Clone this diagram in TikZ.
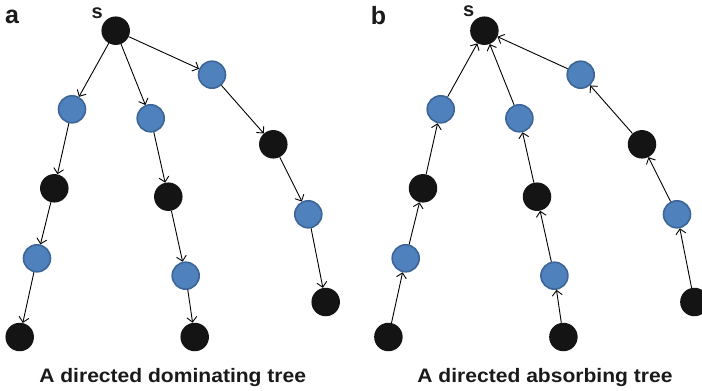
\documentclass[tikz,border=0pt]{standalone}
\usepackage{fontspec}
\setmainfont{Liberation Sans}
\newfontfamily\capfont[FakeStretch=1.08]{Liberation Sans}
\usetikzlibrary{arrows.meta}
\definecolor{nodeblue}{HTML}{4F81BD}
\definecolor{nodeblueedge}{HTML}{3C6598}
\definecolor{nodeblack}{HTML}{141414}
\definecolor{inkgray}{HTML}{1A1A1A}
\begin{document}
\begin{tikzpicture}[x=1pt,y=-1pt,
  vtx/.style={circle,inner sep=0pt,minimum size=28.5pt},
  blk/.style={vtx,fill=nodeblack},
  blu/.style={vtx,fill=nodeblue,draw=nodeblueedge,line width=1.6pt,minimum size=27pt},
  tip/.tip={Straight Barb[length=5pt,width=10pt,line width=0.9pt]},
  domedge/.style={draw=black,line width=0.9pt,-tip},
  absedge/.style={draw=black,line width=0.9pt,tip-},
  panel/.style={font=\bfseries\fontsize{25}{25}\selectfont,text=inkgray},
  srclabel/.style={font=\bfseries\fontsize{20}{20}\selectfont,text=inkgray},
  caption/.style={font=\capfont\bfseries\fontsize{19.5}{20}\selectfont,text=inkgray}]
\useasboundingbox (0,0) rectangle (702,391);

% the same tree in both panels; only the edge direction differs
\foreach \p/\dx/\es in {a/0/domedge, b/368.7/absedge}{
  \begin{scope}[xshift=\dx]
    \node[blk] (\p-s)  at (115.7, 30.7) {};
    % right branch
    \node[blu] (\p-r1) at (212.0, 74.7) {};
    \node[blk] (\p-r2) at (273.3,144.3) {};
    \node[blu] (\p-r3) at (308.3,214.3) {};
    \node[blk] (\p-r4) at (325.7,302.0) {};
    % left branch
    \node[blu] (\p-l1) at ( 72.0,109.3) {};
    \node[blk] (\p-l2) at ( 54.3,188.3) {};
    \node[blu] (\p-l3) at ( 37.0,258.3) {};
    \node[blk] (\p-l4) at ( 19.7,337.0) {};
    % middle branch
    \node[blu] (\p-m1) at (150.7,118.3) {};
    \node[blk] (\p-m2) at (168.3,196.7) {};
    \node[blu] (\p-m3) at (185.7,275.7) {};
    \node[blk] (\p-m4) at (194.7,337.0) {};

    \foreach \b in {r,l,m}{
      \path[\es] (\p-s) -- (\p-\b1);
      \path[\es] (\p-\b1) -- (\p-\b2);
      \path[\es] (\p-\b2) -- (\p-\b3);
      \path[\es] (\p-\b3) -- (\p-\b4);
    }
  \end{scope}
}

\node[panel]    (lbl-a) at ( 12.0, 17.0) {a};
\node[panel]    (lbl-b) at (378.5, 16.0) {b};
\node[srclabel] (s-a)   at ( 97.3, 13.0) {s};
\node[srclabel] (s-b)   at (468.7, 11.5) {s};

\node[caption] (cap-a) at (172.7,377.5) {A directed dominating tree};
\node[caption] (cap-b) at (545.0,377.5) {A directed absorbing tree};
\end{tikzpicture}
\end{document}
